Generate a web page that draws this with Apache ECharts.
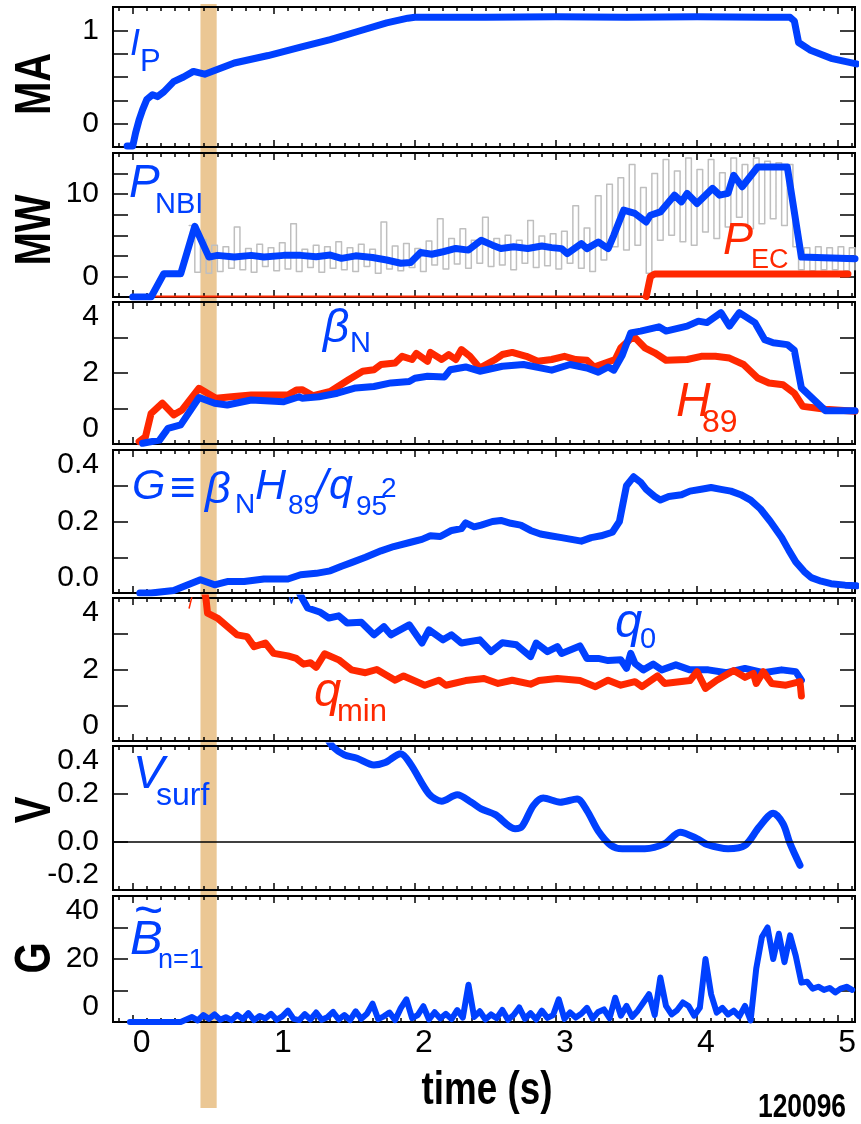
<!DOCTYPE html>
<html>
<head>
<meta charset="utf-8">
<script src="https://cdn.jsdelivr.net/npm/echarts@6/dist/echarts.min.js"></script>
<style>
  html, body { margin: 0; padding: 0; background: #fff; }
  #main { width: 861px; height: 1124px; }
</style>
</head>
<body>
<div id="main"></div>
<script>
// time window of the shaded band (s)
const bandT = [0.48, 0.595];

// x axis (time, s)
const X_MIN = -0.14, X_MAX = 5.12;
const majorT = [0, 1, 2, 3, 4, 5];

// plasma current (MA)
const ipData = [[-0.04,-0.24],[0.0,-0.24],[0.02,-0.10],[0.045,0.04],[0.07,0.15],[0.10,0.26],[0.14,0.31],[0.175,0.29],[0.22,0.34],[0.29,0.45],[0.36,0.50],[0.43,0.56],[0.51,0.53],[0.58,0.57],[0.72,0.65],[0.96,0.73],[1.19,0.82],[1.4,0.90],[1.6,0.99],[1.8,1.08],[1.95,1.13],[2.0,1.14],[2.5,1.14],[3.0,1.145],[3.5,1.14],[4.0,1.145],[4.5,1.14],[4.66,1.14],[4.69,1.10],[4.72,0.87],[4.80,0.79],[4.95,0.70],[5.13,0.64]];

// NBI power, smoothed (MW)
const pnbiData = [[0,-2.5],[0.13,-2.5],[0.22,0.33],[0.34,0.33],[0.44,6.1],[0.54,2.35],[0.60,2.56],[0.72,2.35],[0.84,2.56],[0.93,2.35],[1.07,2.56],[1.19,2.56],[1.3,2.4],[1.4,2.6],[1.48,2.2],[1.58,2.5],[1.7,2.3],[1.8,2.0],[1.9,1.6],[1.97,1.7],[2.04,2.9],[2.12,2.7],[2.2,3.0],[2.29,3.4],[2.38,3.2],[2.47,4.4],[2.55,3.8],[2.61,3.4],[2.7,3.6],[2.8,3.4],[2.9,3.7],[2.97,3.5],[3.04,3.38],[3.08,2.77],[3.18,3.99],[3.22,3.38],[3.30,4.18],[3.37,3.38],[3.41,5.0],[3.48,8.05],[3.56,7.65],[3.64,6.62],[3.67,7.44],[3.74,7.84],[3.84,9.88],[3.89,9.06],[3.93,10.1],[4.00,8.87],[4.11,10.7],[4.16,9.88],[4.22,10.1],[4.26,12.3],[4.32,10.9],[4.43,13.3],[4.64,13.3],[4.74,2.35],[5.12,2.16]];

// NBI power, raw modulated (MW)
const pnbiRaw = [[0.40,6.2],[0.44,0.5],[0.48,4.5],[0.52,0.4],[0.56,3.8],[0.60,0.6],[0.64,3.6],[0.68,1.0],[0.72,6.0],[0.76,0.8],[0.80,3.4],[0.84,0.5],[0.88,3.9],[0.92,1.2],[0.96,3.5],[1.00,0.7],[1.04,4.1],[1.08,0.9],[1.12,6.4],[1.16,0.6],[1.20,3.3],[1.24,1.1],[1.28,3.8],[1.32,0.5],[1.36,3.6],[1.40,1.0],[1.44,4.2],[1.48,0.8],[1.52,3.5],[1.56,0.6],[1.60,3.9],[1.64,1.2],[1.68,3.3],[1.72,0.4],[1.76,6.6],[1.80,0.9],[1.84,3.7],[1.88,0.7],[1.92,4.0],[1.96,1.1],[2.00,3.4],[2.04,0.6],[2.08,4.3],[2.12,1.4],[2.16,7.0],[2.20,0.9],[2.24,4.6],[2.28,1.5],[2.32,5.8],[2.36,1.0],[2.40,4.4],[2.44,1.6],[2.48,7.2],[2.52,1.2],[2.56,4.6],[2.60,1.4],[2.64,5.0],[2.68,0.8],[2.72,4.4],[2.76,1.6],[2.80,6.8],[2.84,1.1],[2.88,4.9],[2.92,1.3],[2.96,5.2],[3.00,0.9],[3.04,5.5],[3.08,1.6],[3.12,8.6],[3.16,1.0],[3.20,5.9],[3.24,0.6],[3.28,9.8],[3.32,2.0],[3.36,11.2],[3.40,3.6],[3.44,12.0],[3.48,3.2],[3.52,13.6],[3.56,3.8],[3.60,10.8],[3.64,0.4],[3.68,12.5],[3.72,4.4],[3.76,14.2],[3.80,5.0],[3.84,12.8],[3.88,4.2],[3.92,14.4],[3.96,3.8],[4.00,13.0],[4.04,5.4],[4.08,14.2],[4.12,4.6],[4.16,12.6],[4.20,6.0],[4.24,14.4],[4.28,7.2],[4.32,13.6],[4.36,5.8],[4.40,14.4],[4.44,6.4],[4.48,14.0],[4.52,7.0],[4.56,13.8],[4.60,6.2],[4.64,13.6],[4.68,3.6],[4.72,0.8],[4.76,3.5],[4.80,0.7],[4.84,3.6],[4.88,0.8],[4.92,3.5],[4.96,0.8],[5.00,3.6],[5.04,0.7],[5.08,3.5],[5.12,0.8]];

// EC power (MW): off, then on
const pecOff = [[0,-2.45],[3.64,-2.45]];
const pecOn = [[3.64,-2.45],[3.67,0.0],[3.70,0.3],[5.07,0.3]];

// normalized beta and H89 confinement factor
const betaNData = [[0.07,0.02],[0.19,0.11],[0.25,0.44],[0.34,0.54],[0.47,1.31],[0.58,1.15],[0.67,1.10],[0.84,1.24],[1.07,1.19],[1.18,1.33],[1.20,1.29],[1.32,1.33],[1.45,1.43],[1.58,1.58],[1.71,1.62],[1.83,1.72],[1.96,1.76],[2.0,1.85],[2.09,1.91],[2.21,1.89],[2.25,2.09],[2.36,2.17],[2.46,2.05],[2.62,2.19],[2.77,2.24],[2.88,2.15],[2.97,2.08],[3.10,2.24],[3.22,2.14],[3.30,2.02],[3.37,2.17],[3.41,2.08],[3.47,2.5],[3.53,3.13],[3.60,3.18],[3.73,3.30],[3.78,3.18],[3.93,3.32],[4.01,3.46],[4.07,3.42],[4.17,3.70],[4.23,3.32],[4.30,3.70],[4.41,3.42],[4.48,2.94],[4.54,2.85],[4.64,2.80],[4.69,2.64],[4.74,1.58],[4.91,0.94],[5.12,0.94]];
const h89Data = [[0.045,0.07],[0.09,0.2],[0.13,0.86],[0.21,1.15],[0.29,0.82],[0.35,0.96],[0.47,1.57],[0.59,1.29],[0.70,1.33],[0.84,1.38],[1.10,1.38],[1.16,1.52],[1.20,1.53],[1.28,1.36],[1.40,1.48],[1.53,1.81],[1.63,2.05],[1.71,2.09],[1.76,2.24],[1.86,2.28],[1.91,2.47],[1.98,2.38],[2.01,2.55],[2.09,2.33],[2.11,2.58],[2.19,2.38],[2.24,2.52],[2.29,2.38],[2.33,2.66],[2.39,2.47],[2.46,2.14],[2.57,2.38],[2.62,2.52],[2.69,2.58],[2.79,2.47],[2.87,2.33],[2.97,2.38],[3.06,2.47],[3.14,2.38],[3.22,2.36],[3.27,2.17],[3.35,2.28],[3.42,2.38],[3.46,2.71],[3.55,3.04],[3.63,2.71],[3.70,2.57],[3.78,2.36],[3.93,2.38],[4.03,2.47],[4.13,2.47],[4.23,2.42],[4.33,2.24],[4.43,1.86],[4.51,1.72],[4.61,1.67],[4.69,1.43],[4.75,1.06],[4.91,0.98],[5.12,0.92]];

// G = betaN H89 / q95^2
const gData = [[0.05,0],[0.13,0],[0.29,0.007],[0.36,0.018],[0.48,0.037],[0.58,0.023],[0.67,0.032],[0.79,0.032],[0.93,0.039],[1.10,0.039],[1.19,0.051],[1.30,0.055],[1.40,0.062],[1.48,0.075],[1.55,0.085],[1.65,0.10],[1.76,0.118],[1.85,0.13],[1.97,0.142],[2.05,0.15],[2.11,0.16],[2.18,0.158],[2.26,0.175],[2.33,0.18],[2.36,0.196],[2.42,0.185],[2.47,0.19],[2.55,0.20],[2.61,0.203],[2.68,0.195],[2.75,0.19],[2.82,0.175],[2.89,0.165],[2.96,0.16],[3.04,0.155],[3.11,0.15],[3.18,0.145],[3.25,0.155],[3.32,0.16],[3.40,0.17],[3.45,0.2],[3.50,0.30],[3.55,0.325],[3.60,0.31],[3.64,0.29],[3.70,0.27],[3.74,0.26],[3.80,0.27],[3.89,0.275],[3.95,0.285],[4.03,0.29],[4.10,0.295],[4.17,0.29],[4.24,0.285],[4.31,0.275],[4.38,0.26],[4.45,0.235],[4.52,0.20],[4.60,0.155],[4.65,0.12],[4.70,0.087],[4.76,0.06],[4.81,0.043],[4.88,0.033],[4.95,0.026],[5.05,0.022],[5.13,0.02]];

// safety factor: central and minimum
const q0Data = [[1.12,4.6],[1.20,4.0],[1.24,3.72],[1.33,3.60],[1.39,3.44],[1.46,3.50],[1.52,3.30],[1.62,3.32],[1.71,2.97],[1.78,3.20],[1.83,2.97],[1.96,3.25],[2.05,2.74],[2.10,3.11],[2.20,2.83],[2.26,2.97],[2.33,2.74],[2.46,2.83],[2.54,2.50],[2.62,2.75],[2.72,2.69],[2.82,2.36],[2.86,2.74],[2.94,2.50],[3.01,2.64],[3.04,2.45],[3.17,2.66],[3.22,2.31],[3.30,2.31],[3.37,2.25],[3.46,2.27],[3.50,2.03],[3.53,2.45],[3.56,2.17],[3.62,1.99],[3.69,2.15],[3.75,1.99],[3.85,2.13],[3.95,1.99],[4.08,1.99],[4.21,1.91],[4.34,2.03],[4.47,1.91],[4.60,1.99],[4.70,1.94],[4.74,1.70]];
const qminData = [[0.49,4.6],[0.52,3.95],[0.53,3.58],[0.60,3.44],[0.74,2.97],[0.81,2.92],[0.86,2.64],[0.94,2.74],[1.00,2.45],[1.10,2.38],[1.16,2.31],[1.21,2.15],[1.26,2.19],[1.30,2.06],[1.36,2.44],[1.46,2.27],[1.55,1.99],[1.65,1.91],[1.73,2.0],[1.86,1.70],[1.92,1.82],[2.07,1.56],[2.17,1.70],[2.22,1.56],[2.36,1.69],[2.49,1.75],[2.59,1.61],[2.69,1.70],[2.82,1.59],[2.88,1.69],[3.01,1.75],[3.17,1.69],[3.28,1.52],[3.37,1.70],[3.46,1.56],[3.56,1.66],[3.61,1.52],[3.72,1.82],[3.77,1.61],[3.95,1.69],[4.00,1.94],[4.06,1.47],[4.14,1.70],[4.26,1.97],[4.34,1.78],[4.40,1.89],[4.42,1.61],[4.47,1.94],[4.53,1.61],[4.63,1.56],[4.73,1.66],[4.74,1.26]];
const qminEarly = [[0.40,3.72],[0.43,4.2]];
const q0Early = [[1.105,4.1],[1.125,3.86],[1.145,4.1]];

// surface loop voltage (V)
const vsurfData = [[1.38,0.43],[1.42,0.396],[1.50,0.363],[1.59,0.349],[1.71,0.321],[1.79,0.331],[1.90,0.368],[1.97,0.324],[2.10,0.20],[2.19,0.170],[2.30,0.197],[2.40,0.166],[2.47,0.138],[2.57,0.114],[2.71,0.055],[2.76,0.065],[2.84,0.152],[2.91,0.183],[3.03,0.166],[3.15,0.179],[3.22,0.131],[3.30,0.046],[3.39,-0.014],[3.47,-0.028],[3.63,-0.028],[3.77,-0.007],[3.88,0.041],[4.00,0.014],[4.07,-0.01],[4.22,-0.028],[4.34,-0.014],[4.44,0.062],[4.54,0.12],[4.61,0.076],[4.66,-0.007],[4.73,-0.097]];

// n=1 magnetic fluctuation amplitude (G)
const bn1Data = [[-0.02,0],[0.34,0],[0.38,0.8],[0.42,1.6],[0.46,0.5],[0.50,2.2],[0.54,1.0],[0.58,2.4],[0.62,0.7],[0.66,1.5],[0.70,0.6],[0.74,2.3],[0.78,0.9],[0.82,2.8],[0.86,0.6],[0.90,1.9],[0.94,1.1],[0.98,2.6],[1.02,0.7],[1.06,1.8],[1.10,3.6],[1.14,1.0],[1.18,0.6],[1.22,2.5],[1.26,0.8],[1.30,3.0],[1.34,0.7],[1.38,1.5],[1.42,3.2],[1.46,0.8],[1.50,2.2],[1.54,0.6],[1.58,3.4],[1.62,1.0],[1.66,2.6],[1.70,5.8],[1.74,0.9],[1.78,1.8],[1.82,3.0],[1.86,0.6],[1.90,4.4],[1.94,7.2],[1.98,1.2],[2.02,2.2],[2.06,5.0],[2.10,0.8],[2.14,3.1],[2.18,1.1],[2.22,2.6],[2.26,0.9],[2.30,3.8],[2.34,1.4],[2.38,11.8],[2.42,1.6],[2.46,3.4],[2.50,0.8],[2.54,2.4],[2.58,1.2],[2.62,3.8],[2.66,0.7],[2.70,2.2],[2.74,4.6],[2.78,1.0],[2.82,2.8],[2.86,0.8],[2.90,3.6],[2.94,1.3],[2.98,2.2],[3.02,7.2],[3.06,1.0],[3.10,3.0],[3.14,1.4],[3.18,2.6],[3.22,4.5],[3.26,1.1],[3.30,3.2],[3.34,4.0],[3.38,1.2],[3.42,7.7],[3.46,2.0],[3.50,5.1],[3.54,1.6],[3.58,3.6],[3.62,6.2],[3.66,8.8],[3.70,2.2],[3.74,14.1],[3.78,5.1],[3.82,2.4],[3.86,3.8],[3.90,6.2],[3.94,5.1],[3.98,2.0],[4.02,4.5],[4.06,20.0],[4.10,8.8],[4.14,3.0],[4.18,4.5],[4.22,2.4],[4.26,3.6],[4.30,1.8],[4.34,5.1],[4.38,0.5],[4.42,17],[4.46,27],[4.50,30],[4.54,20],[4.58,28],[4.62,19],[4.66,27.5],[4.70,21],[4.74,12.5],[4.78,12.8],[4.82,10.6],[4.86,11.2],[4.90,10.2],[4.94,10.8],[4.98,9.4],[5.02,10.6],[5.06,11.2],[5.10,10.2]];

const BLUE = '#0040ff', RED = '#ff2800', GREY = '#bfbfbf', BAND = '#ebc794';
const FONT = "'Liberation Sans',Arial,sans-serif";
const LW = 7;

// panel layout and y scales
const panels = [
  {top: 7,   height: 140, min: -0.25, max: 1.25, step: 0.25, labels: [0, 1]},
  {top: 153, height: 144, min: -2.5, max: 15, step: 2.5, labels: [0, 10]},
  {top: 302, height: 142, min: 0, max: 4, step: 1, labels: [0, 2, 4], inside: true},
  {top: 450, height: 143, min: 0, max: 0.4, step: 0.1, labels: [0, 0.2, 0.4], inside: true, digits: 1},
  {top: 598, height: 143, min: 0, max: 4, step: 1, labels: [0, 2, 4], inside: true},
  {top: 746, height: 144, min: -0.2, max: 0.4, step: 0.2, labels: [-0.2, 0, 0.2, 0.4], inside: true, digits: 1},
  {top: 896, height: 126, min: 0, max: 40, step: 10, labels: [0, 20, 40], inside: true}
];

const minorT = [];
for (let k = -1; k <= 51; k++) if (k % 10 !== 0) minorT.push(k / 10);

const grids = panels.map(p => ({
  left: 113, width: 742, top: p.top, height: p.height,
  show: true, borderColor: '#000', borderWidth: 2,
  containLabel: false, outerBoundsMode: 'none'
}));

const xAxes = [];
const yAxes = [];
panels.forEach((p, i) => {
  const last = i === panels.length - 1;
  [['bottom', majorT, 7], ['bottom', minorT, 4], ['top', majorT, 7], ['top', minorT, 4]].forEach(([pos, ticks, len], k) => {
    xAxes.push({
      type: 'value', gridIndex: i, position: pos, min: X_MIN, max: X_MAX,
      axisLine: {show: false, onZero: false},
      splitLine: {show: false},
      axisTick: {show: true, inside: true, length: len, customValues: ticks, lineStyle: {color: '#000', width: 1.5}},
      axisLabel: (last && k === 0)
        ? {show: true, customValues: majorT, margin: 5, padding: [0, 0, 0, 18], fontSize: 32, fontFamily: FONT, color: '#000'}
        : {show: false}
    });
  });
  ['left', 'right'].forEach(pos => {
    const lab = {show: false};
    if (pos === 'left') {
      Object.assign(lab, {
        show: true, customValues: p.labels, margin: 14, fontSize: 30, fontFamily: FONT, color: '#000',
        formatter: v => p.digits ? v.toFixed(p.digits) : String(v)
      });
      if (p.inside) {
        lab.verticalAlignMinLabel = 'bottom';
        lab.verticalAlignMaxLabel = 'top';
      }
    }
    yAxes.push({
      type: 'value', gridIndex: i, position: pos, min: p.min, max: p.max, interval: p.step,
      axisLine: {show: false, onZero: false},
      splitLine: {show: false},
      axisTick: {show: true, inside: true, length: 15, lineStyle: {color: '#000', width: 1.5}},
      axisLabel: lab
    });
  });
});

function line(i, data, color, width, extra) {
  return Object.assign({
    type: 'line', xAxisIndex: 4 * i, yAxisIndex: 2 * i, data: data,
    showSymbol: false, symbol: 'none', clip: true, animation: false,
    lineStyle: {color: color, width: width, join: 'round', cap: 'round'},
    itemStyle: {color: color}, emphasis: {disabled: true}
  }, extra || {});
}

const series = [
  line(0, ipData, BLUE, LW),
  line(1, pnbiRaw, GREY, 1.5, {step: 'end'}),
  line(1, pecOff, RED, 2),
  line(1, pnbiData, BLUE, LW),
  line(1, pecOn, RED, LW),
  line(2, h89Data, RED, LW),
  line(2, betaNData, BLUE, LW),
  line(3, gData, BLUE, LW),
  line(4, qminEarly, RED, 1.5),
  line(4, q0Early, BLUE, 1.5),
  line(4, q0Data, BLUE, LW),
  line(4, qminData, RED, LW),
  line(5, vsurfData, BLUE, LW, {
    smooth: 0.3,
    markLine: {silent: true, symbol: 'none', label: {show: false}, animation: false,
      lineStyle: {color: '#000', width: 1.5, type: 'solid'}, data: [{yAxis: 0}]}
  }),
  line(6, bn1Data, BLUE, 6)
];

const chart = echarts.init(document.getElementById('main'), null, {renderer: 'canvas'});
chart.setOption({
  backgroundColor: '#fff',
  animation: false,
  grid: grids,
  xAxis: xAxes,
  yAxis: yAxes,
  series: series
});

function txt(x, y, s, size, color, style) {
  return {
    type: 'text', x: x, y: y, z: 10,
    style: {text: s, fill: color, font: (style || '') + ' ' + size + 'px ' + FONT,
      align: 'left', verticalAlign: 'middle', textAlign: 'left', textVerticalAlign: 'middle'}
  };
}
// condensed bold black text (axis names, footer)
function bold(x, y, s, size, rot) {
  return {
    type: 'text', x: x, y: y, rotation: rot || 0, scaleX: 0.8, z: 10,
    style: {text: s, fill: '#000', font: 'bold ' + size + 'px ' + FONT,
      align: 'center', verticalAlign: 'middle', textAlign: 'center', textVerticalAlign: 'middle'}
  };
}

const bx0 = chart.convertToPixel({xAxisIndex: 0}, bandT[0]);
const bx1 = chart.convertToPixel({xAxisIndex: 0}, bandT[1]);

chart.setOption({
  graphic: [
    {type: 'rect', z: -1, shape: {x: bx0, y: 4, width: bx1 - bx0, height: 1104}, style: {fill: BAND}},
    bold(36, 84, 'MA', 50, Math.PI / 2),
    bold(36, 230, 'MW', 50, Math.PI / 2),
    bold(36, 810, 'V', 50, Math.PI / 2),
    bold(36, 958, 'G', 50, Math.PI / 2),
    bold(487, 1091, 'time (s)', 46),
    bold(802, 1108, '120096', 33),
    txt(130, 45, 'I', 36, BLUE, 'italic'),
    txt(140, 62, 'P', 31, BLUE),
    txt(129, 184, 'P', 46, BLUE, 'italic'),
    txt(155, 205, 'NBI', 29, BLUE),
    txt(723, 241, 'P', 45, RED, 'italic'),
    txt(751, 261, 'EC', 27, RED),
    txt(323, 329, 'β', 46, BLUE, 'italic'),
    txt(350, 344, 'N', 29, BLUE),
    txt(676, 403, 'H', 48, RED, 'italic'),
    txt(702, 423, '89', 32, RED),
    txt(132, 487, 'G', 43, BLUE, 'italic'),
    txt(170, 490, '≡', 44, BLUE, 'bold'),
    txt(205, 490, 'β', 45, BLUE, 'italic'),
    txt(235, 505, 'N', 28, BLUE),
    txt(255, 487, 'H', 43, BLUE, 'italic'),
    txt(288, 506, '89', 28, BLUE),
    txt(316, 487, '/', 43, BLUE, 'italic'),
    txt(329, 487, 'q', 43, BLUE, 'italic'),
    txt(356, 507, '95', 28, BLUE),
    txt(381, 489, '2', 28, BLUE),
    txt(615, 623, 'q', 49, BLUE, 'italic'),
    txt(640, 640, '0', 29, BLUE),
    txt(314, 692, 'q', 49, RED, 'italic'),
    txt(337, 712, 'min', 31, RED),
    txt(133, 775, 'V', 47, BLUE, 'italic'),
    txt(156, 796, 'surf', 32, BLUE),
    txt(130, 940, 'B', 49, BLUE, 'italic'),
    txt(134, 913, '~', 50, BLUE),
    txt(158, 961, 'n=1', 27, BLUE)
  ]
});
</script>
</body>
</html>
